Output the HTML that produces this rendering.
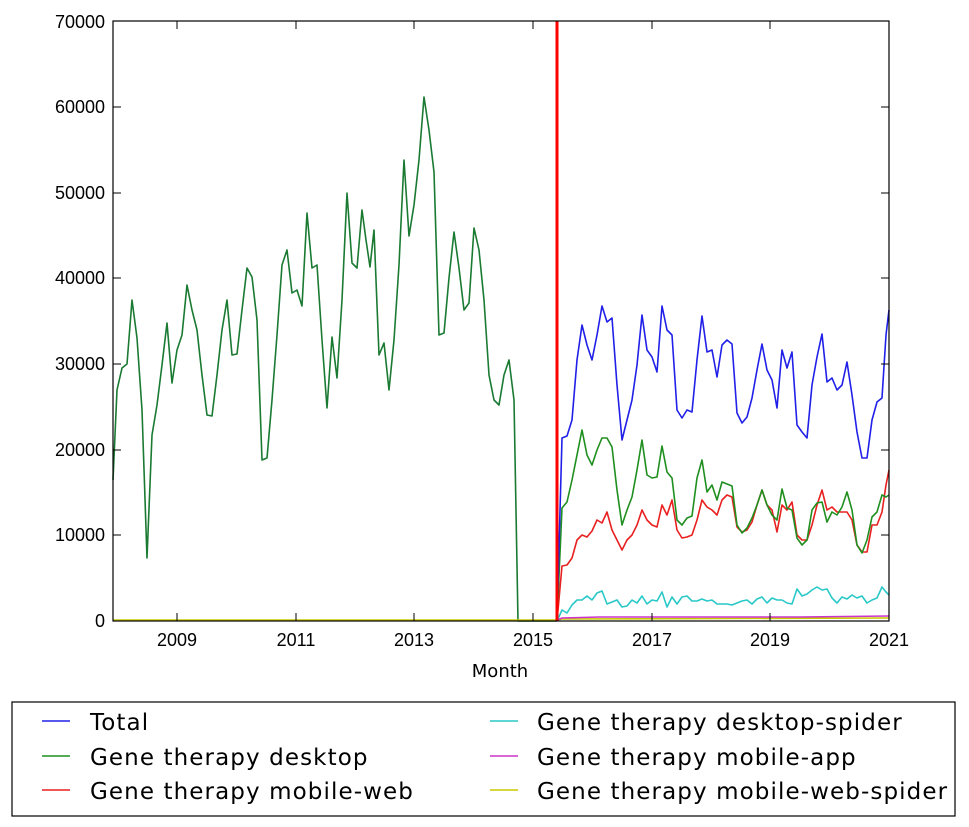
<!DOCTYPE html>
<html><head><meta charset="utf-8"><style>
body{margin:0;background:#fff;}
svg text{font-family:"DejaVu Sans","Liberation Sans",sans-serif;fill:#000;}
svg .tk{font-family:"Liberation Sans",sans-serif;}
</style></head><body>
<svg width="969" height="822" viewBox="0 0 969 822" xmlns="http://www.w3.org/2000/svg">
<rect width="969" height="822" fill="#fff"/>
<g fill="none" stroke-width="1.6" stroke-linejoin="round">
<polyline stroke="#1a7a32" points="113,480 117,390 122,368 127,364 132,300 137,338 142,410 147,558 152,435 157,405 162,365 167,323 172,383 177,350 182,335 187,285 192,310 197,330 202,375 207,415 212,416 217,375 222,330 227,300 232,355 237,354 242,310 247,268 252,277 257,320 262,460 267,458 272,400 277,335 282,265 287,250 292,293 297,290 302,306 307,213 312,268 317,265 322,340 327,408 332,337 337,378 342,300 347,193 352,263 357,268 362,210 366,240 370,267 374,230 379,355 384,343 389,390 394,340 399,265 404,160 409,236 414,205 419,160 424,97 429,130 434,172 439,335 444,333 449,278 454,232 459,268 464,310 469,303 474,228 479,250 484,300 489,375 494,400 499,405 504,375 509,360 514,400 518,621 557,621"/>
<polyline stroke="#c8c800" points="113,620 557,620 562,619 889,618"/>
<polyline stroke="#cc33cc" points="557,620 562,618 600,617 700,617 800,617 889,616"/>
<polyline stroke="#2ac8c8" points="557,621 562,610 567,613 572,605 577,600 582,600 587,596 592,600 597,593 602,591 607,604 612,602 617,600 622,607 627,606 632,600 637,603 642,596 647,604 652,600 657,601 662,592 667,607 672,597 677,604 682,597 687,596 692,601 697,601 702,599 707,601 712,600 717,604 722,604 727,604 732,605 737,603 742,601 747,600 752,604 757,599 762,597 767,603 772,598 777,600 782,600 787,603 792,604 797,589 802,596 807,594 812,590 817,587 822,590 827,589 832,598 837,603 842,597 847,599 852,595 857,598 862,596 867,603 872,600 877,598 882,587 886,592 889,595"/>
<polyline stroke="#e82020" points="557,621 562,566 567,565 572,558 577,540 582,535 587,537 592,531 597,520 602,523 607,512 612,530 617,540 622,550 627,540 632,535 637,525 642,510 647,520 652,525 657,527 662,505 667,515 672,500 677,530 682,538 687,537 692,535 697,520 702,500 707,507 712,510 717,515 722,500 727,495 732,497 737,527 742,532 747,530 752,522 757,505 762,490 767,505 772,510 777,532 782,505 787,510 792,502 797,535 802,540 807,540 812,525 817,505 822,490 827,510 832,507 837,512 842,512 847,512 852,520 857,545 862,552 867,552 872,525 877,525 882,512 886,485 889,470"/>
<polyline stroke="#1f8f1f" points="557,621 562,508 567,502 572,480 577,455 582,430 587,455 592,465 597,450 602,438 607,438 612,447 617,490 622,525 627,510 632,497 637,470 642,440 647,475 652,478 657,477 662,446 667,472 672,478 677,520 682,525 687,518 692,516 697,478 702,460 707,492 712,485 717,500 722,482 727,484 732,486 737,525 742,533 747,528 752,518 757,505 762,490 767,505 772,515 777,520 782,489 787,508 792,510 797,538 802,545 807,540 812,510 817,503 822,502 827,522 832,512 837,515 842,507 847,492 852,510 857,545 862,553 867,540 872,517 877,512 882,495 886,497 889,495"/>
<polyline stroke="#2020e8" points="557,621 562,438 567,436 572,420 577,360 582,325 587,345 592,360 597,335 602,306 607,322 612,318 617,385 622,440 627,420 632,400 637,365 642,315 647,350 652,357 657,372 662,306 667,330 672,335 677,410 682,418 687,410 692,412 697,360 702,316 707,352 712,350 717,377 722,345 727,340 732,344 737,413 742,423 747,417 752,398 757,370 762,344 767,370 772,380 777,408 782,350 787,368 792,352 797,425 802,432 807,438 812,385 817,357 822,334 827,382 832,378 837,390 842,385 847,362 852,395 857,432 862,458 867,458 872,420 877,402 882,398 886,335 889,310"/>
</g>
<line x1="557" y1="21" x2="557" y2="621" stroke="#ff0000" stroke-width="3"/>
<rect x="113" y="21" width="776" height="600" fill="none" stroke="#000" stroke-width="1.2"/>
<g stroke="#000" stroke-width="1">
<line x1="177" y1="621" x2="177" y2="613"/><line x1="296" y1="621" x2="296" y2="613"/><line x1="414" y1="621" x2="414" y2="613"/><line x1="533" y1="621" x2="533" y2="613"/><line x1="652" y1="621" x2="652" y2="613"/><line x1="770" y1="621" x2="770" y2="613"/>
<line x1="177" y1="21" x2="177" y2="29"/><line x1="296" y1="21" x2="296" y2="29"/><line x1="414" y1="21" x2="414" y2="29"/><line x1="533" y1="21" x2="533" y2="29"/><line x1="652" y1="21" x2="652" y2="29"/><line x1="770" y1="21" x2="770" y2="29"/>
<line x1="113" y1="535" x2="121" y2="535"/><line x1="113" y1="450" x2="121" y2="450"/><line x1="113" y1="364" x2="121" y2="364"/><line x1="113" y1="278" x2="121" y2="278"/><line x1="113" y1="193" x2="121" y2="193"/><line x1="113" y1="107" x2="121" y2="107"/>
<line x1="889" y1="535" x2="881" y2="535"/><line x1="889" y1="450" x2="881" y2="450"/><line x1="889" y1="364" x2="881" y2="364"/><line x1="889" y1="278" x2="881" y2="278"/><line x1="889" y1="193" x2="881" y2="193"/><line x1="889" y1="107" x2="881" y2="107"/>
</g>
<g font-size="18" text-anchor="end" class="tk">
<text class="tk" x="105" y="627">0</text><text class="tk" x="105" y="541">10000</text><text class="tk" x="105" y="456">20000</text><text class="tk" x="105" y="370">30000</text><text class="tk" x="105" y="284">40000</text><text class="tk" x="105" y="199">50000</text><text class="tk" x="105" y="113">60000</text><text class="tk" x="105" y="28">70000</text>
</g>
<g font-size="18" text-anchor="middle">
<text class="tk" x="177" y="646">2009</text><text class="tk" x="296" y="646">2011</text><text class="tk" x="414" y="646">2013</text><text class="tk" x="533" y="646">2015</text><text class="tk" x="652" y="646">2017</text><text class="tk" x="770" y="646">2019</text><text class="tk" x="889" y="646">2021</text>
<text x="500" y="677">Month</text>
</g>
<rect x="12" y="702" width="943" height="114" fill="#fff" stroke="#000" stroke-width="1.2"/>
<g stroke-width="1.6">
<line x1="42" y1="721" x2="70" y2="721" stroke="#2020e8"/>
<line x1="42" y1="756" x2="70" y2="756" stroke="#1f8f1f"/>
<line x1="42" y1="790" x2="70" y2="790" stroke="#e82020"/>
<line x1="490" y1="721" x2="518" y2="721" stroke="#2ac8c8"/>
<line x1="490" y1="756" x2="518" y2="756" stroke="#cc33cc"/>
<line x1="490" y1="790" x2="518" y2="790" stroke="#c8c800"/>
</g>
<g font-size="23" letter-spacing="1.1">
<text x="90" y="730">Total</text>
<text x="90" y="765">Gene therapy desktop</text>
<text x="90" y="799">Gene therapy mobile-web</text>
<text x="537" y="730">Gene therapy desktop-spider</text>
<text x="537" y="765">Gene therapy mobile-app</text>
<text x="537" y="799">Gene therapy mobile-web-spider</text>
</g>
</svg>
</body></html>
